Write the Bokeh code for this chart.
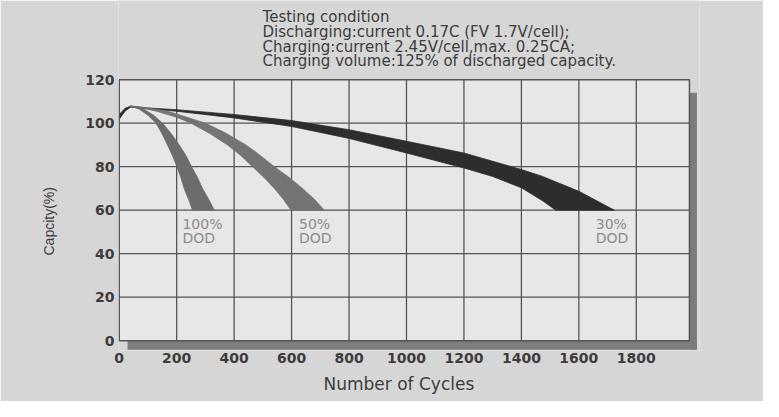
from bokeh.plotting import figure
from bokeh.models import Range1d, FixedTicker, Label, Title
from bokeh.embed import file_html
from bokeh.resources import INLINE

# ---------------- data ----------------
x_ticks = [0, 200, 400, 600, 800, 1000, 1200, 1400, 1600, 1800]
y_ticks = [0, 20, 40, 60, 80, 100, 120]
x_box_end = 1985  # right edge of the chart box (cycles)

# 30% DOD band (upper and lower edges)
dod30_upper_x = [0, 20, 40, 100, 200, 400, 600, 800, 1000, 1200, 1400, 1474, 1600, 1724]
dod30_upper_y = [104.0, 106.8, 107.9, 107.0, 106.2, 104.0, 101.2, 97.0, 91.7, 86.3, 78.7, 75.5, 68.7, 60]
dod30_lower_x = [0, 20, 40, 100, 200, 400, 600, 800, 1000, 1200, 1300, 1400, 1474, 1520]
dod30_lower_y = [101.8, 105.5, 107.4, 106.6, 105.5, 102.4, 98.5, 93.0, 86.3, 79.4, 75.5, 70.3, 64.3, 60]

# 50% DOD band
dod50_outer_x = [40, 100, 168, 200, 300, 370, 441, 490, 540, 590, 638, 678, 714]
dod50_outer_y = [107.8, 107.0, 105.5, 104.2, 100, 95.5, 90, 85.3, 80, 75.2, 70, 65.2, 60]
dod50_inner_x = [40, 80, 133, 200, 250, 315, 377, 422, 464, 503, 540, 570, 598]
dod50_inner_y = [107.8, 107.0, 105.4, 102.7, 100, 95.3, 90, 85.3, 80, 75.2, 70, 65.3, 60]

# 100% DOD band
dod100_outer_x = [40, 50, 85, 120, 151, 181, 209, 232, 252, 272, 290, 311, 331]
dod100_outer_y = [107.8, 107.6, 106.5, 103.6, 100, 95.2, 90, 85.2, 80, 75.2, 70, 65.1, 60]
dod100_inner_x = [40, 50, 70, 100, 128, 149, 168, 185, 201, 214, 226, 241, 255]
dod100_inner_y = [107.8, 107.4, 106.4, 103.7, 100, 95.2, 90, 85.2, 80, 75.2, 70, 65.1, 60]

title_lines = [
    "Testing condition",
    "Discharging:current 0.17C (FV 1.7V/cell);",
    "Charging:current 2.45V/cell,max. 0.25CA;",
    "Charging volume:125% of discharged capacity.",
]
band_labels = [("100%", "DOD"), ("50%", "DOD"), ("30%", "DOD")]
x_label = "Number of Cycles"
y_label = "Capcity(%)"

# ---------------- figure ----------------
BG = "#d6d6d6"
p = figure(width=763, height=401,
           x_range=Range1d(-2.5, 2020), y_range=Range1d(-4.5, 156.4),
           output_backend="svg", toolbar_location=None,
           min_border_left=118, min_border_right=64,
           min_border_top=0, min_border_bottom=51)
p.background_fill_color = BG
p.border_fill_color = BG
p.outline_line_color = None
p.grid.visible = False

# shadow of the chart box
y_lo = y_ticks[0]
y_hi = y_ticks[-1]
p.quad(left=[x_box_end], right=[x_box_end + 26], bottom=[y_lo - 4.1], top=[y_hi - 6],
       fill_color="#7c7c7c", line_color=None)
p.quad(left=[29], right=[x_box_end + 26], bottom=[y_lo - 4.1], top=[y_lo],
       fill_color="#7c7c7c", line_color=None)

# chart box
p.quad(left=[x_ticks[0]], right=[x_box_end], bottom=[y_lo], top=[y_hi],
       fill_color="#e7e7e7", line_color=None)

# grid lines
GRID = "#555555"
p.segment(x0=x_ticks[1:], x1=x_ticks[1:], y0=[y_lo] * (len(x_ticks) - 1),
          y1=[y_hi] * (len(x_ticks) - 1), line_color=GRID, line_width=1.3)
p.segment(x0=[x_ticks[0]] * (len(y_ticks) - 2), x1=[x_box_end] * (len(y_ticks) - 2),
          y0=y_ticks[1:-1], y1=y_ticks[1:-1], line_color=GRID, line_width=1.3)

# bands
p.patch(dod30_upper_x + dod30_lower_x[::-1], dod30_upper_y + dod30_lower_y[::-1],
        fill_color="#2d2d2d", line_color="#2d2d2d", line_width=0.8)
p.patch(dod50_outer_x + dod50_inner_x[::-1], dod50_outer_y + dod50_inner_y[::-1],
        fill_color="#747474", line_color="#747474", line_width=0.8)
p.patch(dod100_outer_x + dod100_inner_x[::-1], dod100_outer_y + dod100_inner_y[::-1],
        fill_color="#6c6c6c", line_color="#6c6c6c", line_width=0.8)

# box outline
p.quad(left=[x_ticks[0]], right=[x_box_end], bottom=[y_lo], top=[y_hi],
       fill_color=None, line_color=GRID, line_width=1.5)

# band labels
label_x = [220, 626, 1659]
for (l1, l2), lx in zip(band_labels, label_x):
    for txt, ly in ((l1, 53.6), (l2, 47.4)):
        p.add_layout(Label(x=lx, y=ly, text=txt, text_font="DejaVu Sans",
                           text_font_size="14px", text_color="#8c8c8c",
                           text_baseline="middle", text_align="left"))

# testing condition text
for txt, ly in zip(title_lines, [148.7, 141.8, 135.0, 128.4]):
    p.add_layout(Label(x=499, y=ly, text=txt, text_font="DejaVu Sans",
                       text_font_size="15px", text_color="#3d3d3d",
                       text_baseline="alphabetic", text_align="left"))

# axes
p.xaxis.ticker = FixedTicker(ticks=x_ticks)
p.yaxis.ticker = FixedTicker(ticks=y_ticks)
for ax in (p.xaxis[0], p.yaxis[0]):
    ax.axis_line_color = None
    ax.major_tick_line_color = None
    ax.minor_tick_line_color = None
    ax.major_tick_out = 0
    ax.major_tick_in = 0
    ax.minor_tick_out = 0
    ax.minor_tick_in = 0
    ax.major_label_text_font = "DejaVu Sans"
    ax.major_label_text_font_style = "bold"
    ax.major_label_text_font_size = "14px"
    ax.major_label_text_color = "#3c3c3c"

p.xaxis.major_label_standoff = 2
p.yaxis.major_label_standoff = 4

# axis titles (placed as side titles so they can be offset)
p.add_layout(Title(text=x_label, align="left", offset=205, text_font="DejaVu Sans",
                   text_font_size="17px", text_font_style="normal",
                   text_color="#3d3d3d", standoff=12), "below")
p.add_layout(Title(text=y_label, align="left", offset=95, text_font="Liberation Sans",
                   text_font_size="14px", text_font_style="normal",
                   text_color="#3d3d3d", standoff=52), "left")

open("out.html", "w").write(file_html(p, INLINE))
